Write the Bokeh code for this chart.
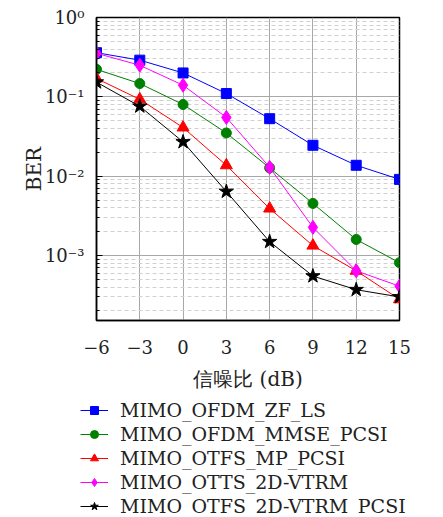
import numpy as np
from bokeh.plotting import figure
from bokeh.models import (FixedTicker, CustomJSTickFormatter, Legend, LegendItem, Range1d)
from bokeh.embed import file_html
from bokeh.resources import INLINE

snr = [-6, -3, 0, 3, 6, 9, 12, 15]
ber_zf_ls = [0.36, 0.29, 0.20, 0.11, 0.053, 0.0245, 0.0137, 0.0091]
ber_mmse_pcsi = [0.222, 0.147, 0.080, 0.035, 0.0127, 0.00453, 0.00159, 0.00081]
ber_mp_pcsi = [0.17, 0.093, 0.041, 0.0137, 0.0039, 0.00133, 0.00064, 0.00028]
ber_otts_vtrm = [0.354, 0.25, 0.14, 0.055, 0.0129, 0.00226, 0.00064, 0.00041]
ber_vtrm_pcsi = [0.153, 0.076, 0.027, 0.0064, 0.00149, 0.00055, 0.00037, 0.00030]
labels = ["MIMO_OFDM_ZF_LS", "MIMO_OFDM_MMSE_PCSI", "MIMO_OTFS_MP_PCSI",
          "MIMO_OTTS_2D-VTRM", "MIMO_OTFS_2D-VTRM_PCSI"]
x_ticks = [-6, -3, 0, 3, 6, 9, 12, 15]
y_ticks = [1e-3, 1e-2, 1e-1, 1.0]

SERIF = "DejaVu Serif"

p = figure(y_axis_type="log", output_backend="svg", toolbar_location=None,
           frame_width=303, frame_height=303,
           x_range=Range1d(-6, 15), y_range=Range1d(10 ** -3.82, 1.0),
           min_border_left=96, min_border_top=17, min_border_right=30, min_border_bottom=72)
p.outline_line_color = "black"
p.outline_line_width = 1.5
p.outline_line_alpha = 1

# axes
p.xaxis.ticker = FixedTicker(ticks=x_ticks)
p.xaxis.major_label_overrides = {-6: "\u22126", -3: "\u22123"}
minor = [m * 10.0 ** e for e in range(-4, 0) for m in range(2, 10)]
p.yaxis.ticker = FixedTicker(ticks=y_ticks, minor_ticks=minor)
p.yaxis.formatter = CustomJSTickFormatter(code="""
const e = Math.round(Math.log10(tick));
const sup = {'-':'\u207b','0':'\u2070','1':'\u00b9','2':'\u00b2','3':'\u00b3','4':'\u2074'};
return '10' + String(e).split('').map(c => sup[c]).join('');
""")
for ax in (p.xaxis[0], p.yaxis[0]):
    ax.axis_line_color = "black"
    ax.axis_line_width = 1.5
    ax.major_label_text_font = SERIF
    ax.major_label_text_font_size = "18px"
    ax.major_label_text_color = "#222222"
    ax.axis_label_text_font = SERIF
    ax.axis_label_text_font_size = "20px"
    ax.axis_label_text_font_style = "normal"
    ax.axis_label_text_color = "#222222"
p.xaxis.major_tick_line_color = None
p.xaxis.minor_tick_line_color = None
p.xaxis.major_label_standoff = 13
p.yaxis.major_tick_in = 6
p.yaxis.major_tick_out = 0
p.yaxis.minor_tick_in = 3
p.yaxis.minor_tick_out = 0
p.yaxis.major_tick_line_color = "black"
p.yaxis.minor_tick_line_color = "black"
p.yaxis.major_label_standoff = 12
p.xaxis.axis_label = "信噪比 (dB)"
p.yaxis.axis_label = "BER"
p.xaxis.axis_label_standoff = 10
p.yaxis.axis_label_standoff = -4

# grids
p.xgrid.grid_line_color = "#a8a8a8"
p.xgrid.grid_line_width = 1
p.ygrid.grid_line_color = "#a8a8a8"
p.ygrid.grid_line_width = 1
p.ygrid.minor_grid_line_color = "#d0d0d0"
p.ygrid.minor_grid_line_dash = "4 3"
p.ygrid.minor_grid_line_width = 1

series = [
    (ber_zf_ls, "blue", "square", 10),
    (ber_mmse_pcsi, "green", "circle", 10),
    (ber_mp_pcsi, "red", "triangle", 12),
    (ber_otts_vtrm, "magenta", "diamond", 14),
    (ber_vtrm_pcsi, "black", "star", 15),
]

# legend panel: its own figure (separate root) below the chart; its ranges
# keep the duplicated series out of view so only the legend shows.
q = figure(output_backend="svg", toolbar_location=None, width=435, height=125,
           x_axis_location=None, y_axis_location=None,
           x_range=Range1d(100, 101), y_range=Range1d(100, 101),
           min_border=0, outline_line_color=None)
q.xgrid.visible = False
q.ygrid.visible = False

items = []
for (vals, col, mk, sz), lab in zip(series, labels):
    p.line(snr, vals, line_color=col, line_width=1)
    p.scatter(snr, vals, marker=mk, size=sz, fill_color=col, line_color=col)
    r1 = q.line(snr, vals, line_color=col, line_width=1)
    r2 = q.scatter(snr, vals, marker=mk, size=sz - 1, fill_color=col, line_color=col)
    items.append(LegendItem(label=lab, renderers=[r1, r2]))

legend = Legend(items=items, location=(80, 1), orientation="vertical",
                border_line_color=None, background_fill_alpha=0,
                padding=0, margin=0, spacing=2,
                glyph_width=28, glyph_height=20, label_height=20,
                label_standoff=12, label_text_font=SERIF,
                label_text_font_size="19px", label_text_color="#222222")
q.add_layout(legend, "center")

open("out.html", "w").write(file_html([p, q], INLINE))
